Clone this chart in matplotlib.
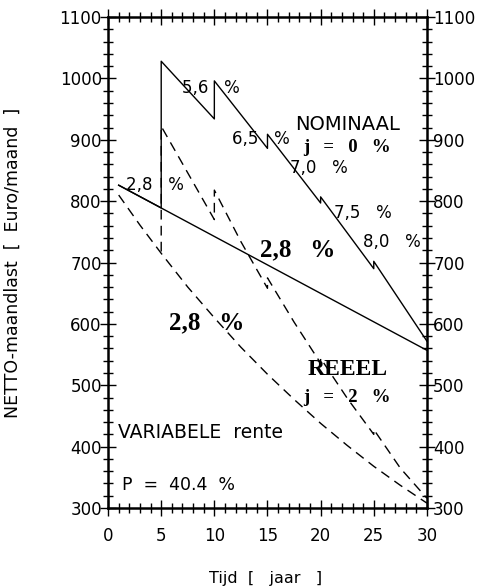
import matplotlib
matplotlib.use("Agg")
import matplotlib.pyplot as plt
from matplotlib.ticker import MultipleLocator

# nominal payments (solid)
t_fixed = [1, 30]
nom_fixed = [826, 557]
t_var = [1, 5, 5, 10, 10, 15, 15, 20, 20, 25, 25, 30]
nom_var = [826, 789, 1028, 934, 996, 886, 909, 797, 807, 690, 702, 572]

# real payments, j = 2 % (dashed)
t_real_fixed = [1, 3, 5, 7.5, 10, 12.5, 15, 17.5, 20, 22.5, 25, 27.5, 30]
real_fixed = [810, 761, 715, 660, 610, 562, 518, 477, 438, 402, 368, 337, 308]
t_real_var = [5, 5, 7.5, 10, 10, 12.5, 15, 15, 17.5, 20, 20, 22.5, 25, 25, 27.5, 30]
real_var = [718, 922, 846, 770, 818, 734, 658, 675, 603, 536, 544, 479, 420, 428, 365, 316]

fig = plt.figure(figsize=(4.89, 5.88), dpi=100)
ax = fig.add_axes([0.221, 0.136, 0.652, 0.835])

ax.plot(t_fixed, nom_fixed, color="k", lw=1.0)
ax.plot(t_var, nom_var, color="k", lw=1.0)
ax.plot(t_real_fixed, real_fixed, color="k", lw=1.0, dashes=(7, 4.5))
ax.plot(t_real_var, real_var, color="k", lw=1.0, dashes=(7, 4.5))

ax.set_xlim(0, 30)
ax.set_ylim(300, 1100)
ax.xaxis.set_major_locator(MultipleLocator(5))
ax.xaxis.set_minor_locator(MultipleLocator(1))
ax.yaxis.set_major_locator(MultipleLocator(100))
ax.yaxis.set_minor_locator(MultipleLocator(20))
ax.tick_params(which="both", direction="inout", top=True, right=True,
               labelright=True, width=1.0, labelsize=12, colors="k")
ax.tick_params(which="major", length=11)
ax.tick_params(which="minor", length=6.5)
ax.tick_params(axis="y", which="major", pad=-1)
ax.tick_params(axis="x", which="major", pad=8)
for s in ax.spines.values():
    s.set_linewidth(1.8)

ax.set_ylabel("NETTO-maandlast  [  Euro/maand  ]", fontsize=12.5)
ax.yaxis.set_label_coords(-0.27, 0.5)
ax.set_xlabel("Tijd  [   jaar   ]", fontsize=11.5)
ax.xaxis.set_label_coords(0.495, -0.128)

reg = dict(fontsize=12, ha="center", va="center")
ax.text(9.7, 985, "5,6   %", **reg)
ax.text(14.4, 901, "6,5   %", **reg)
ax.text(19.8, 854, "7,0   %", **reg)
ax.text(24.0, 781, "7,5   %", **reg)
ax.text(26.7, 733, "8,0   %", **reg)
ax.text(4.4, 827, "2,8   %", **reg)
ax.text(22.5, 925, "NOMINAAL", fontsize=14, ha="center", va="center")
ax.text(0.95, 423, "VARIABELE  rente", fontsize=13.5, ha="left", va="center")
ax.text(1.3, 337, "P  =  40.4  %", fontsize=12.5, ha="left", va="center")

bold = dict(family="Liberation Serif", weight="bold", ha="center", va="center")
ax.text(17.8, 721, "2,8   %", fontsize=18, **bold)
ax.text(9.3, 601, "2,8   %", fontsize=18, **bold)
ax.text(22.5, 525, "REEEL", fontsize=17, **bold)
ax.text(22.5, 888, "j   =   0   %", fontsize=13.5, **bold)
ax.text(22.5, 480, "j   =   2   %", fontsize=13.5, **bold)

fig.savefig("out.png", dpi=100)
